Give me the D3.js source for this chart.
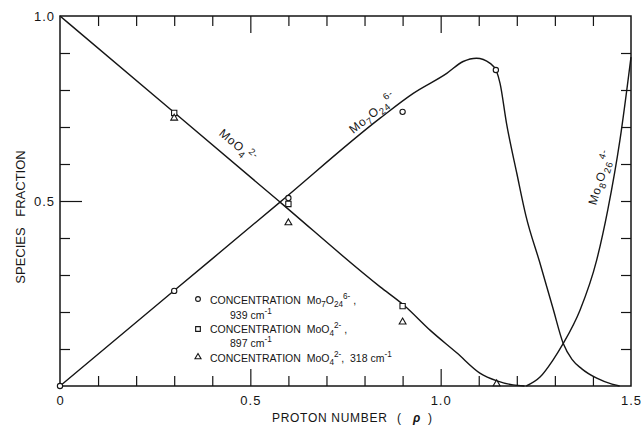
<!DOCTYPE html>
<html>
<head>
  <meta charset="utf-8">
  <script src="https://cdn.jsdelivr.net/npm/d3@7/dist/d3.min.js"></script>
  <title>Species fraction vs proton number</title>
  <style>
    body { margin: 0; background: #fff; }
    svg text { font-family: "Liberation Sans", Arial, sans-serif; fill: #151515; }
    .axis path.domain { display: none; }
    .axis line { stroke: #151515; stroke-width: 1.2px; }
    .curve { fill: none; stroke: #151515; stroke-width: 1.4px; }
    .mark { fill: #fff; stroke: #151515; stroke-width: 1.1px; }
  </style>
</head>
<body>
<svg id="chart" width="642" height="426"></svg>
<script>
// curves (proton number p, species fraction)
var molyP  = [0, 0.3, 0.578, 0.841, 0.905, 0.972, 1.043, 1.103, 1.148, 1.19, 1.22];
var molyF  = [1, 0.739, 0.497, 0.268, 0.217, 0.151, 0.089, 0.035, 0.014, 0.003, 0];
var heptaP = [0, 0.3, 0.578, 0.841, 0.928, 1.016, 1.059, 1.094, 1.13, 1.147, 1.156, 1.173, 1.2, 1.224, 1.26, 1.295, 1.322, 1.345, 1.37, 1.41, 1.45, 1.47];
var heptaF = [0, 0.258, 0.497, 0.724, 0.791, 0.845, 0.877, 0.886, 0.872, 0.85, 0.818, 0.71, 0.575, 0.46, 0.335, 0.21, 0.115, 0.072, 0.047, 0.021, 0.005, 0];
var octaP  = [1.225, 1.261, 1.295, 1.322, 1.366, 1.41, 1.439, 1.471, 1.5];
var octaF  = [0, 0.024, 0.07, 0.115, 0.205, 0.341, 0.476, 0.665, 0.889];

// measured points
var circP = [0, 0.3, 0.6, 0.9, 1.145];
var circF = [0, 0.257, 0.508, 0.741, 0.854];
var sqP   = [0.3, 0.6, 0.9];
var sqF   = [0.738, 0.492, 0.216];
var triP  = [0.3, 0.6, 0.9, 1.147];
var triF  = [0.724, 0.441, 0.173, 0.006];

// ticks
var xMinor = [0.1, 0.2, 0.3, 0.4, 0.6, 0.7, 0.8, 0.9, 1.1, 1.2, 1.3, 1.4];
var xMajor = [0.5, 1.0];
var xTickLabels = [0, 0.5, 1.0, 1.5];
var yMinor = [0.1, 0.2, 0.3, 0.4, 0.6, 0.7, 0.8, 0.9];
var yMajor = [0.5];
var yTickLabels = [0.5, 1.0];

var svg = d3.select("#chart");
var pl = 60, pr = 631, pt = 16, pb = 386;

var x = d3.scaleLinear().domain([0, 1.5]).range([pl, pr]);
var y = d3.scaleLinear().domain([0, 1]).range([pb, pt]);

function fmt(d) { return d === 0 ? "0" : d.toFixed(1); }

// ticks, all pointing inward
svg.append("g").attr("class", "axis").attr("transform", "translate(0," + pb + ")")
  .call(d3.axisBottom(x).tickValues(xMinor).tickSize(-10).tickFormat(""));
svg.append("g").attr("class", "axis").attr("transform", "translate(0," + pb + ")")
  .call(d3.axisBottom(x).tickValues(xMajor).tickSize(-17).tickFormat(""));
svg.append("g").attr("class", "axis").attr("transform", "translate(0," + pt + ")")
  .call(d3.axisTop(x).tickValues(xMinor).tickSize(-10).tickFormat(""));
svg.append("g").attr("class", "axis").attr("transform", "translate(0," + pt + ")")
  .call(d3.axisTop(x).tickValues(xMajor).tickSize(-17).tickFormat(""));
svg.append("g").attr("class", "axis").attr("transform", "translate(" + pl + ",0)")
  .call(d3.axisLeft(y).tickValues(yMinor).tickSize(-10).tickFormat(""));
svg.append("g").attr("class", "axis").attr("transform", "translate(" + pl + ",0)")
  .call(d3.axisLeft(y).tickValues(yMajor).tickSize(-22).tickFormat(""));
svg.append("g").attr("class", "axis").attr("transform", "translate(" + pr + ",0)")
  .call(d3.axisRight(y).tickValues(yMinor.concat(yMajor)).tickSize(-10).tickFormat(""));

// tick labels
svg.append("g").attr("class", "axis").attr("transform", "translate(0," + pb + ")")
  .call(d3.axisBottom(x).tickValues(xTickLabels).tickSize(0).tickPadding(10).tickFormat(fmt));
svg.append("g").attr("class", "axis").attr("transform", "translate(" + pl + ",0)")
  .call(d3.axisLeft(y).tickValues(yTickLabels).tickSize(0).tickPadding(5).tickFormat(fmt));
svg.selectAll(".axis text").attr("font-family", null).attr("font-size", null)
  .style("font-size", "13px").style("letter-spacing", "1px");

// frame
svg.append("rect").attr("x", pl).attr("y", pt)
  .attr("width", pr - pl).attr("height", pb - pt)
  .attr("fill", "none").attr("stroke", "#151515").attr("stroke-width", 1.5);

// curves
var line = d3.line()
  .x(function(d) { return x(d[0]); })
  .y(function(d) { return y(d[1]); })
  .curve(d3.curveMonotoneX);

[[molyP, molyF], [heptaP, heptaF], [octaP, octaF]].forEach(function(s) {
  svg.append("path").attr("class", "curve").attr("d", line(d3.zip(s[0], s[1])));
});

// markers
function marks(ps, fs, type, size) {
  svg.append("g").selectAll("path").data(d3.zip(ps, fs)).join("path")
    .attr("class", "mark")
    .attr("transform", function(d) { return "translate(" + x(d[0]) + "," + y(d[1]) + ")"; })
    .attr("d", d3.symbol().type(type).size(size));
}
marks(circP, circF, d3.symbolCircle, 22);
marks(sqP, sqF, d3.symbolSquare, 28);
marks(triP, triF, d3.symbolTriangle, 20);

// formula text with sub/superscripts
function chem(t, parts, fs) {
  var shift = 0;
  parts.forEach(function(p) {
    var s = p[1] === "sub" ? fs * 0.3 : p[1] === "sup" ? -fs * 0.45 : 0;
    t.append("tspan").attr("dy", s - shift)
      .style("font-size", (p[1] ? fs * 0.78 : fs) + "px").text(p[0]);
    shift = s;
  });
  return t;
}

// curve labels
function curveLabel(px, py, ang, parts) {
  var t = svg.append("text")
    .attr("transform", "translate(" + px + "," + py + ") rotate(" + ang + ")")
    .attr("text-anchor", "middle").style("letter-spacing", "0.8px");
  chem(t, parts, 12);
}
curveLabel(x(0.46), y(0.641), 40, [["MoO", ""], ["4", "sub"], ["2-", "sup"]]);
curveLabel(x(0.828), y(0.729), -39, [["Mo", ""], ["7", "sub"], ["O", ""], ["24", "sub"], ["6-", "sup"]]);
curveLabel(x(1.43), y(0.56), -73, [["Mo", ""], ["8", "sub"], ["O", ""], ["26", "sub"], ["4-", "sup"]]);

// legend
var lg = svg.append("g").style("font-size", "10.5px");
var lx = 210, ls = 198;
function legendLine(xx, yy, parts) {
  var t = lg.append("text").attr("x", xx).attr("y", yy).style("white-space", "pre");
  chem(t, parts, 10.5);
}
legendLine(lx, 303.5, [["CONCENTRATION  Mo", ""], ["7", "sub"], ["O", ""], ["24", "sub"], ["6-", "sup"], [" ,", ""]]);
legendLine(230, 318.5, [["939 cm", ""], ["-1", "sup"]]);
legendLine(lx, 332.5, [["CONCENTRATION  MoO", ""], ["4", "sub"], ["2-", "sup"], [" ,", ""]]);
legendLine(230, 347, [["897 cm", ""], ["-1", "sup"]]);
legendLine(lx, 361.5, [["CONCENTRATION  MoO", ""], ["4", "sub"], ["2-", "sup"], [",  318 cm", ""], ["-1", "sup"]]);

lg.append("path").attr("class", "mark").attr("transform", "translate(" + ls + ",299)")
  .attr("d", d3.symbol().type(d3.symbolCircle).size(18));
lg.append("path").attr("class", "mark").attr("transform", "translate(" + ls + ",329)")
  .attr("d", d3.symbol().type(d3.symbolSquare).size(22));
lg.append("path").attr("class", "mark").attr("transform", "translate(" + ls + ",357)")
  .attr("d", d3.symbol().type(d3.symbolTriangle).size(16));

// axis titles
var xt = svg.append("text").attr("x", 272).attr("y", 422).style("font-size", "12px");
xt.append("tspan").style("letter-spacing", "0.7px").text("PROTON NUMBER");
xt.append("tspan").attr("x", 397).text("(");
xt.append("tspan").attr("x", 413).style("font-style", "italic").style("font-weight", "bold").text("ρ");
xt.append("tspan").attr("x", 428).text(")");

svg.append("text").attr("transform", "translate(25,217) rotate(-90)")
  .attr("text-anchor", "middle").style("font-size", "13px").style("word-spacing", "7px")
  .text("SPECIES FRACTION");
</script>
</body>
</html>
